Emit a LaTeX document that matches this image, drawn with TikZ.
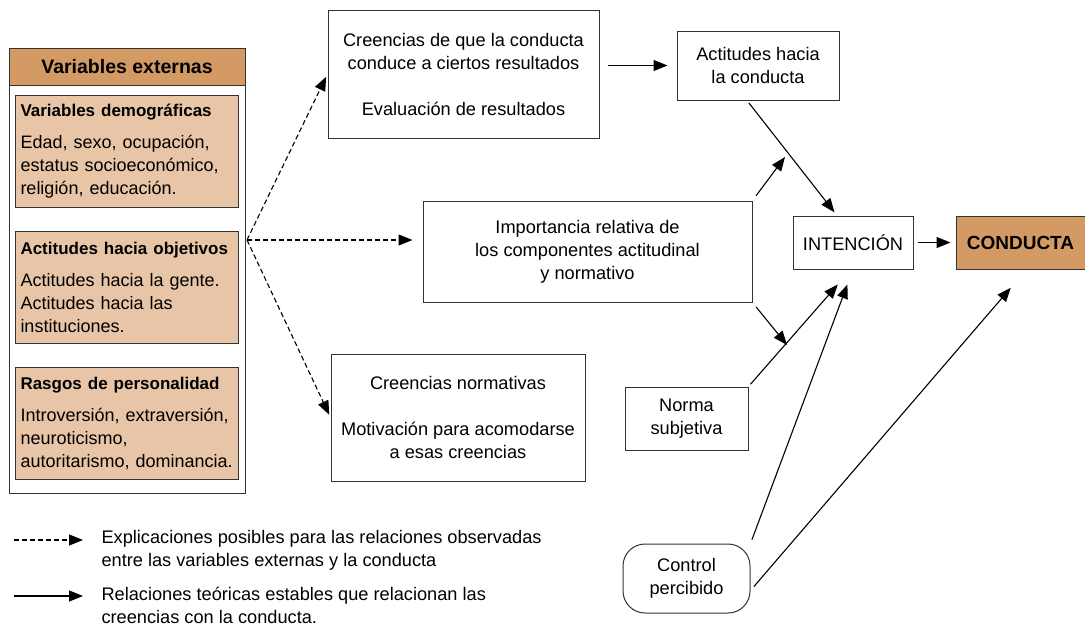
\documentclass[tikz,border=0pt]{standalone}
\usepackage{fontspec}
\setmainfont{Liberation Sans}
\usetikzlibrary{arrows.meta}
\definecolor{tanoscuro}{RGB}{212,154,100}
\definecolor{tanclaro}{RGB}{232,197,166}

\begin{document}
\begin{tikzpicture}[x=1pt,y=-1pt,>={Triangle[length=14pt,width=11pt]},line width=1.1pt,
  caja/.style={draw=black!80,line width=1pt,align=center,inner sep=0pt,font=\fontsize{18.2}{23}\selectfont},
  subcaja/.style={draw=black!80,line width=1pt,fill=tanclaro,anchor=north west,align=left,
    text width=213pt,inner xsep=5pt,inner ysep=6pt,minimum width=223pt,minimum height=112pt,
    font=\fontsize{18}{23}\selectfont},
  punteada/.style={->,dash pattern=on 5pt off 3pt},
  leyenda/.style={anchor=west,align=left,inner sep=0pt,font=\fontsize{18.2}{23}\selectfont}]

  \useasboundingbox (0,0) rectangle (1085,627);

    % variables externas
    \node(externas) at (127,270.5) [caja,minimum width=236pt,minimum height=445pt] {};
    \node(cabecera) at (127,66.5) [caja,fill=tanoscuro,minimum width=236pt,minimum height=37pt,font=\fontsize{19.5}{23}\selectfont\bfseries] {Variables externas};
    \foreach \n/\y/\titulo/\texto in {
        demo/95/{Variables demográficas}/{Edad, sexo, ocupación,\\estatus socioeconómico,\\religión, educación.},
        obje/231/{Actitudes hacia objetivos}/{Actitudes hacia la gente.\\Actitudes hacia las\\instituciones.},
        pers/367/{Rasgos de personalidad}/{Introversión, extraversión,\\neuroticismo,\\autoritarismo, dominancia.}}
    {
      \node(\n) at (15,\y) [subcaja] {{\fontsize{17}{23}\selectfont\bfseries\titulo}\\[9pt]\texto};
    }
    \coordinate(origen) at (247,240);

    % cajas de creencias
    \node(creencias) at (463.5,74) [caja,minimum width=271pt,minimum height=128pt]
      {Creencias de que la conducta\\conduce a ciertos resultados\\[23pt]Evaluación de resultados};
    \node(importancia) at (587.5,251.5) [caja,minimum width=329pt,minimum height=101pt]
      {Importancia relativa de\\los componentes actitudinal\\y normativo};
    \node(normativas) at (458,417.5) [caja,minimum width=254pt,minimum height=127pt]
      {Creencias normativas\\[23pt]Motivación para acomodarse\\a esas creencias};

    \node(actitudes) at (758,65.5) [caja,minimum width=162pt,minimum height=69pt] {Actitudes hacia\\la conducta};
    \node(intencion) at (853,242.5) [caja,minimum width=120pt,minimum height=53pt] {INTENCIÓN};
    \node(conducta) at (1020.5,242.5) [caja,fill=tanoscuro,minimum width=129pt,minimum height=53pt,font=\fontsize{19}{23}\selectfont\bfseries] {CONDUCTA};
    \node(norma) at (686.5,418.5) [caja,minimum width=123pt,minimum height=63pt] {Norma\\subjetiva};
    \node(control) at (686.5,578.5) [caja,rounded corners=22pt,minimum width=127pt,minimum height=69pt] {Control\\percibido};

    \coordinate(mod1) at (785,157);
    \coordinate(mod2) at (787,345);

    % explicaciones posibles
    \draw[punteada,shorten >=3pt] (origen) -- (creencias.west);
    \draw[punteada,shorten >=10pt] (origen) -- (origen -| importancia.west);
    \draw[punteada,shorten >=3pt] (origen) -- (normativas.west);

    % relaciones teoricas
    \draw[->,shorten <=8pt,shorten >=9pt] (creencias.east |- actitudes.west) -- (actitudes.west);
    \draw[->,shorten <=3pt,shorten >=4pt] ([xshift=-11pt]actitudes.south) -- ([xshift=-16pt]intencion.north);
    \draw[->,shorten <=6pt] (importancia.north east) -- (mod1);
    \draw[->,shorten <=6pt] (importancia.south east) -- (mod2);
    \draw[->,shorten <=3pt,shorten >=20pt] (norma.north east) -- ([xshift=-2pt]intencion.south);
    \draw[->,shorten <=4pt,shorten >=16pt] (control.north east) -- (intencion.south);
    \draw[->,shorten <=5pt,shorten >=24pt] ([yshift=-12pt]control.east) -- ([xshift=6pt]conducta.south);
    \draw[->,shorten <=4pt,shorten >=5pt] (intencion.east) -- (conducta.west);

    % leyenda
    \coordinate(l1a) at (14,540);
    \coordinate(l1b) at (83,540);
    \coordinate(l2a) at (14,596);
    \coordinate(l2b) at (83,596);
    \draw[punteada] (l1a) -- (l1b);
    \draw[->] (l2a) -- (l2b);
    \node(ley1) at (101,550.5) [leyenda] {Explicaciones posibles para las relaciones observadas\\entre las variables externas y la conducta};
    \node(ley2) at (101,605) [leyenda] {Relaciones teóricas estables que relacionan las\\creencias con la conducta.};
\end{tikzpicture}
\end{document}
